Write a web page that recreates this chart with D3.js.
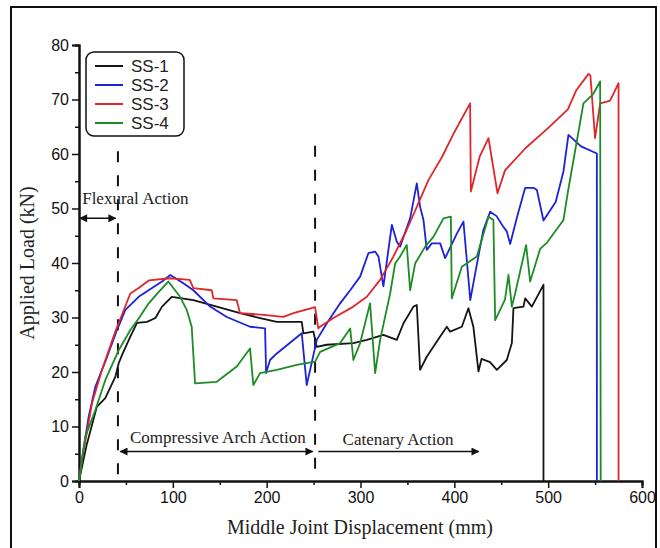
<!DOCTYPE html>
<html>
<head>
<meta charset="utf-8">
<script src="https://cdn.jsdelivr.net/npm/d3@7"></script>
<style>
  body { margin: 0; background: #fff; }
  svg { display: block; }
  .tick text { font-family: "Liberation Sans", Arial, sans-serif; font-size: 16px; fill: #111; }
  .serif { font-family: "Liberation Serif", "Times New Roman", serif; fill: #222; }
</style>
</head>
<body>
<div id="chart"></div>
<script>
// ******* Data *******
var seriesNames = ["SS-1", "SS-2", "SS-3", "SS-4"];
var colour = ["#141414", "#1c22d6", "#e0262a", "#1e8c24"];
var xTicks = [0, 100, 200, 300, 400, 500, 600];
var yTicks = [0, 10, 20, 30, 40, 50, 60, 70, 80];

// displacement (mm), load (kN)
var ss1 = [[0,0],[8,6.5],[19,13.6],[28,15.2],[38.7,19.1],[42.3,21.6],[45.8,23.1],[54.7,26.5],[61.8,29],[72.5,29.2],
  [81.4,29.9],[88.5,32],[98.8,33.8],[121.9,33.2],[146.8,32],[171.6,30.8],[193,29.9],[210.8,29.2],[237.4,29.2],
  [239.1,27.1],[249.8,27.4],[253.4,24.6],[264,25],[292.4,25.3],[306.7,25.9],[324.4,26.8],[338.7,25.9],[345.7,28.9],
  [356.4,32],[360,32.3],[363.5,20.4],[370.6,22.8],[384.9,26.5],[392,28.3],[395.5,27.4],[408,28.3],[415,31.7],
  [420.3,28.3],[425.7,20.1],[429,22.4],[438,21.8],[445.3,20.4],[455.9,22.2],[461.3,25.3],[463,31.7],[473.7,32],
  [475.5,33.5],[482.6,32],[495,36],[495,0]];
var ss2 = [[0,0],[4,5],[10.3,11.8],[17.4,17.3],[28,21.9],[40.5,27.7],[49.4,31.4],[63.6,33.8],[77.8,35.4],[88.5,36.6],
  [97.3,37.8],[111.2,36.3],[121.9,35],[139.7,32],[157.5,30.1],[182.3,28.3],[198.3,28],[199.4,19.8],[203.6,22.2],
  [210.8,23.4],[237.4,27.1],[242.7,17.6],[253.4,25.9],[264,28.9],[278.3,32.6],[289,35],[299.6,37.5],[308.4,41.8],
  [315.6,42.1],[319.1,41.2],[324.4,35.7],[333.4,47],[338.7,43.9],[342.2,43],[352.9,48.2],[360,54.6],[363.5,50.3],
  [367.1,47.9],[370.6,42.4],[376,43.6],[384.9,43.6],[390.2,40.9],[402.7,45.4],[409.7,47.6],[417,33.2],[422.2,38.1],
  [431,46.1],[438.2,49.4],[445,48.6],[452,46.7],[455.9,45.8],[459.5,43.5],[466.5,48.2],[475.5,53.8],[484.3,53.8],
  [488,53.4],[495,47.8],[508,51.2],[516.3,56.8],[521.6,63.5],[535,61.4],[551.9,60.1],[551.9,0]];
var ss3 = [[0,0],[3.2,3.9],[13.9,14.3],[24.5,20.4],[38.7,27.4],[45.8,30.5],[54.7,34.4],[63.6,35.4],[74.3,36.8],
  [97,37.2],[118,36.9],[121.9,35.4],[141.4,35],[143.2,33.5],[168,33.2],[171.6,30.8],[196.5,30.5],[217.8,30.1],
  [228.5,30.8],[251.6,31.9],[255,28],[256.9,28.3],[271.1,29.9],[292.4,32],[306.7,33.8],[320.9,36.9],[335.1,41.2],
  [349.3,46.1],[360,50.3],[372.4,55.2],[387,59.5],[400,64],[416.8,69.3],[417.6,53.1],[427,59.5],[436.4,62.9],
  [446,52.8],[454,57],[476,61.1],[499,64.6],[521,68.2],[530,71.7],[543,74.7],[545,74.4],[550,62.9],[555.4,69.3],
  [562.6,69.6],[566,69.8],[575,73],[575,0]];
var ss4 = [[0,0],[6.7,8.1],[17.4,13],[28,18.5],[42.3,24],[54.7,27.7],[63.6,29.8],[74.3,32.6],[85,34.7],[95.2,36.6],
  [107.7,33.8],[114.8,31.4],[120.1,28.3],[123.7,17.9],[146.8,18.2],[168.1,21],[182.3,24.3],[185.8,17.6],[193,19.8],
  [210.8,20.4],[232.1,21.3],[251.6,21.9],[257,23.7],[278.3,25.3],[289,28],[292.4,22.2],[299.6,25.3],[310.2,32.6],
  [315.6,19.8],[320.9,25.9],[331.6,34.4],[336.9,39.9],[342.2,41.2],[349.3,43.3],[352.9,35],[358.2,39.9],[368.9,43],
  [377.7,44.8],[388.4,48.2],[396.3,48.5],[397.3,33.5],[408,39.3],[424,41.2],[436.4,48.5],[441.6,47.9],[443.5,29.5],
  [454,33.3],[457.7,37.8],[461.3,32],[464.8,34.4],[476.5,43.3],[480.8,36.6],[491.5,42.6],[499,43.8],[516.3,47.9],
  [521,53],[527,58.9],[537.6,69.3],[548,71],[555.4,73.3],[556,0]];
var allSeries = [ss1, ss2, ss3, ss4];

// phase boundaries (mm) and the load where each dashed line starts
var boundaries = [[41.5, 60.5], [251.6, 61.5]];

// ******* Chart set up *******
var w = 660, h = 548;
var svg = d3.select("#chart").append("svg").attr("width", w).attr("height", h);

var x = d3.scaleLinear().domain([0, 600]).range([79, 642]);
var y = d3.scaleLinear().domain([0, 80]).range([481, 45]);

// outer frame
svg.append("rect").attr("x", 11).attr("y", 7).attr("width", 645).attr("height", 560)
  .attr("fill", "none").attr("stroke", "#111").attr("stroke-width", 2);

svg.append("defs").append("marker")
  .attr("id", "arr").attr("viewBox", "0 0 10 10").attr("refX", 9).attr("refY", 5)
  .attr("markerWidth", 10).attr("markerHeight", 8).attr("markerUnits", "userSpaceOnUse")
  .attr("orient", "auto-start-reverse")
  .append("path").attr("d", "M0,0 L10,5 L0,10 Z").attr("fill", "#111");

// ******* Axes *******
svg.append("g").attr("transform", "translate(0," + y(0) + ")")
  .call(d3.axisBottom(x).tickValues(xTicks).tickSize(7).tickPadding(4));
svg.append("g").attr("transform", "translate(0," + y(0) + ")")
  .call(d3.axisBottom(x).tickValues(d3.range(50, 600, 100)).tickSize(4).tickFormat(""));
svg.append("g").attr("transform", "translate(" + x(0) + ",0)")
  .call(d3.axisLeft(y).tickValues(yTicks).tickSize(7).tickPadding(3));
svg.append("g").attr("transform", "translate(" + x(0) + ",0)")
  .call(d3.axisLeft(y).tickValues(d3.range(5, 80, 10)).tickSize(4).tickFormat(""));
svg.selectAll(".domain").attr("stroke", "#111").attr("stroke-width", 2);
svg.selectAll(".tick line").attr("stroke", "#111").attr("stroke-width", 1.5);

svg.append("text").attr("class", "serif")
  .attr("x", 360).attr("y", 534).attr("text-anchor", "middle").style("font-size", "20px")
  .text("Middle Joint Displacement (mm)");
svg.append("text").attr("class", "serif")
  .attr("transform", "translate(34,263) rotate(-90)").attr("text-anchor", "middle").style("font-size", "20px")
  .text("Applied Load (kN)");

// ******* Dashed phase lines *******
boundaries.forEach(function (b) {
  svg.append("line")
    .attr("x1", x(b[0])).attr("x2", x(b[0]))
    .attr("y1", y(b[1])).attr("y2", y(0))
    .attr("stroke", "#111").attr("stroke-width", 2).attr("stroke-dasharray", "11,13");
});

// ******* Curves *******
var line = d3.line().x(d => x(d[0])).y(d => y(d[1]));
svg.selectAll(".curve")
  .data(allSeries)
  .enter()
  .append("path")
  .attr("class", "curve")
  .attr("d", d => line(d))
  .attr("fill", "none")
  .attr("stroke", (d, i) => colour[i])
  .attr("stroke-width", 1.8)
  .attr("stroke-linejoin", "round");

// ******* Annotations *******
function arrow(x1, x2, yv, both) {
  svg.append("line")
    .attr("x1", x(x1)).attr("x2", x(x2)).attr("y1", y(yv)).attr("y2", y(yv))
    .attr("stroke", "#111").attr("stroke-width", 1.6)
    .attr("marker-end", "url(#arr)")
    .attr("marker-start", both ? "url(#arr)" : null);
}
arrow(1, 39, 48.2, true);
arrow(44, 249, 5.4, true);
arrow(255, 426, 5.4, false);

svg.append("text").attr("class", "serif").attr("x", x(60)).attr("y", y(52) + 6)
  .attr("text-anchor", "middle").style("font-size", "17px").text("Flexural Action");
svg.append("text").attr("class", "serif").attr("x", x(148)).attr("y", y(8) + 6)
  .attr("text-anchor", "middle").style("font-size", "17px").text("Compressive Arch Action");
svg.append("text").attr("class", "serif").attr("x", x(340)).attr("y", y(7.7) + 6)
  .attr("text-anchor", "middle").style("font-size", "17px").text("Catenary Action");

// ******* Legend *******
var lg = svg.append("g");
lg.append("rect").attr("x", 86).attr("y", 52).attr("width", 98).attr("height", 84)
  .attr("rx", 8).attr("fill", "#fff").attr("stroke", "#111").attr("stroke-width", 1.5);
lg.selectAll("line.key")
  .data(seriesNames)
  .enter()
  .append("line")
  .attr("x1", 95).attr("x2", 123)
  .attr("y1", (d, i) => 66 + i * 19).attr("y2", (d, i) => 66 + i * 19)
  .attr("stroke", (d, i) => colour[i]).attr("stroke-width", 2);
lg.selectAll("text.key")
  .data(seriesNames)
  .enter()
  .append("text")
  .attr("x", 131).attr("y", (d, i) => 66 + i * 19)
  .attr("dy", "0.36em")
  .style("font-family", "Liberation Sans, Arial, sans-serif").style("font-size", "17px").style("fill", "#222")
  .text(d => d);
</script>
</body>
</html>
